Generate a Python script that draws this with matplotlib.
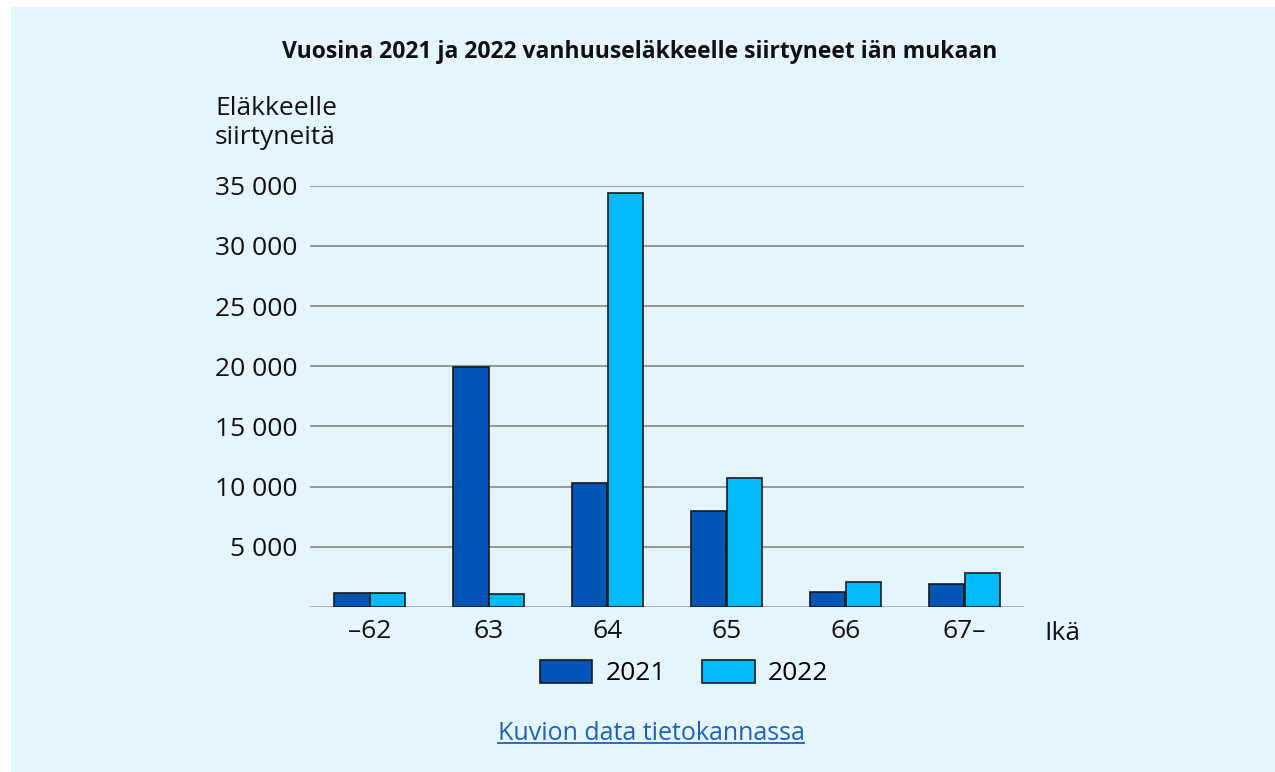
import matplotlib
matplotlib.use("Agg")
import matplotlib.pyplot as plt
from matplotlib.patches import Rectangle
from matplotlib.lines import Line2D
import numpy as np

ages = ["\u201362", "63", "64", "65", "66", "67\u2013"]
years = ["2021", "2022"]
v2021 = [1160, 19900, 10300, 8000, 1270, 1910]
v2022 = [1160, 1050, 34400, 10700, 2100, 2800]
yticks = [5000, 10000, 15000, 20000, 25000, 30000, 35000]

c2021 = "#0255b5"
c2022 = "#00b9f7"
bg = "#e5f5fd"

plt.rcParams["font.family"] = ["Open Sans", "DejaVu Sans"]

fig = plt.figure(figsize=(12.75, 7.72), dpi=100)
fig.patch.set_facecolor("white")
fig.add_artist(Rectangle((11 / 1275, 0), 1.0, 1 - 7 / 772,
                         transform=fig.transFigure, facecolor=bg,
                         edgecolor="none", zorder=-10))

ax = fig.add_axes([310 / 1275, 165 / 772, 714 / 1275, 421.3 / 772])
ax.set_facecolor("none")

x = np.arange(len(ages))
w = 0.30
ax.bar(x - w / 2, v2021, w, color=c2021, edgecolor="#1a1a1a", linewidth=1.2,
       label=years[0], zorder=3)
ax.bar(x + w / 2, v2022, w, color=c2022, edgecolor="#1a1a1a", linewidth=1.2,
       label=years[1], zorder=3)

ax.set_xlim(-0.5, len(ages) - 0.5)
ax.set_ylim(0, 35000)
ax.set_yticks(yticks)
ax.set_yticklabels([f"{v:,}".replace(",", " ") for v in yticks])
ax.set_xticks(x)
ax.set_xticklabels(ages)
ax.tick_params(axis="both", length=0, labelsize=19, colors="#111111")
ax.tick_params(axis="y", pad=9)
ax.tick_params(axis="x", pad=9)
ax.grid(axis="y", color="#9a9a9a", linewidth=1.5, zorder=0)
ax.axhline(0, color="#9a9a9a", linewidth=1.8, zorder=2)
for s in ax.spines.values():
    s.set_visible(False)

fig.text(640 / 1275, (772 - 52) / 772, "Vuosina 2021 ja 2022 vanhuuseläkkeelle siirtyneet iän mukaan",
         ha="center", va="center", fontsize=16.5, fontweight="bold", color="#111111")
fig.text(215 / 1275, (772 - 96) / 772, "Eläkkeelle\nsiirtyneitä", ha="left", va="top",
         fontsize=19, color="#111111", linespacing=1.2)
fig.text(1044 / 1275, (772 - 634) / 772, "Ikä", ha="left", va="center",
         fontsize=19, color="#111111")

fig.legend(loc="center", bbox_to_anchor=(684 / 1275, (772 - 673) / 772), ncol=2,
           frameon=False, fontsize=19, handlelength=2.0, handleheight=0.95,
           handletextpad=0.5, columnspacing=1.36)

link = fig.text(651 / 1275, (772 - 734) / 772, "Kuvion data tietokannassa",
                ha="center", va="center", fontsize=18, color="#1c62b9")
fig.canvas.draw()
bb = link.get_window_extent().transformed(fig.transFigure.inverted())
fig.add_artist(Line2D([bb.x0, bb.x1], [bb.y0 + 0.004, bb.y0 + 0.004],
                      transform=fig.transFigure, color="#1c62b9", linewidth=1.3))

fig.savefig("out.png", dpi=100, facecolor=fig.get_facecolor())
